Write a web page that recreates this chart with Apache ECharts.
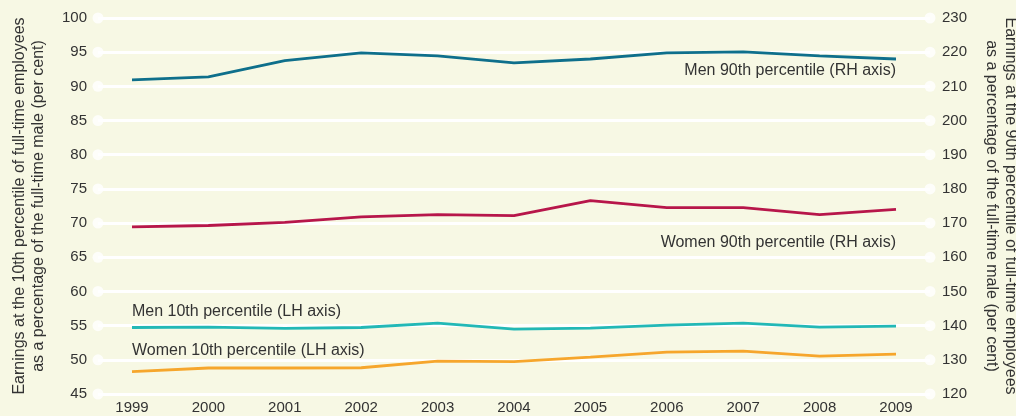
<!DOCTYPE html>
<html>
<head>
<meta charset="utf-8">
<script src="https://cdn.jsdelivr.net/npm/echarts@6/dist/echarts.min.js"></script>
<style>
  html, body { margin: 0; padding: 0; background: #f7f8e4; }
  #chart { width: 1016px; height: 416px; }
</style>
</head>
<body>
<div id="chart"></div>
<script>
// Years on the horizontal axis
const years = [1999, 2000, 2001, 2002, 2003, 2004, 2005, 2006, 2007, 2008, 2009];

// Earnings at the 90th percentile, % of full-time male (right-hand axis)
const men90 = [211.9, 212.8, 217.5, 219.8, 218.9, 216.9, 218.0, 219.8, 220.1, 218.9, 218.0];
const women90 = [168.9, 169.3, 170.2, 171.8, 172.5, 172.2, 176.6, 174.5, 174.5, 172.5, 174.0];

// Earnings at the 10th percentile, % of full-time male (left-hand axis)
const men10 = [54.73, 54.78, 54.59, 54.73, 55.36, 54.49, 54.63, 55.07, 55.36, 54.78, 54.92];
const women10 = [48.26, 48.8, 48.8, 48.84, 49.82, 49.75, 50.4, 51.13, 51.28, 50.55, 50.84];

// Tick values on the two value axes
const leftTicks = [45, 50, 55, 60, 65, 70, 75, 80, 85, 90, 95, 100];
const rightTicks = [120, 130, 140, 150, 160, 170, 180, 190, 200, 210, 220, 230];

const seriesNames = [
  'Men 90th percentile (RH axis)',
  'Women 90th percentile (RH axis)',
  'Men 10th percentile (LH axis)',
  'Women 10th percentile (LH axis)'
];

const FONT = '"Liberation Sans", Arial, Helvetica, sans-serif';
const TEXT = '#333333';
const xMin = 1998.555, xMax = 2009.445;

const pairs = vals => years.map((y, i) => [y, vals[i]]);

// Series name written beside one point of the line
function nameTag(vals, idx, text, opts) {
  return {
    silent: true,
    symbol: 'circle', symbolSize: 0,
    itemStyle: { color: 'rgba(0,0,0,0)' },
    label: Object.assign({ show: true, formatter: text, color: TEXT,
      fontSize: 16, fontFamily: FONT }, opts),
    data: [{ coord: [years[idx], vals[idx]] }]
  };
}

function lineSeries(name, vals, axis, color, tag) {
  return {
    name: name, type: 'line', yAxisIndex: axis, showSymbol: false, z: 3,
    lineStyle: { color: color, width: 2.8 }, itemStyle: { color: color },
    data: pairs(vals), markPoint: tag
  };
}

const chart = echarts.init(document.getElementById('chart'), null, { renderer: 'canvas' });

chart.setOption({
  backgroundColor: '#f7f8e4',
  animation: false,
  grid: { left: 98, right: 86, top: 18, bottom: 22, containLabel: false, outerBoundsMode: 'none' },
  xAxis: {
    type: 'value', min: xMin, max: xMax,
    axisLine: { show: false }, axisTick: { show: false }, splitLine: { show: false },
    axisLabel: {
      customValues: years, formatter: v => String(Math.round(v)),
      color: TEXT, fontSize: 15, fontFamily: FONT, margin: 6
    }
  },
  yAxis: [
    {
      type: 'value', min: 45, max: 100, interval: 5, position: 'left',
      name: 'Earnings at the 10th percentile of full-time employees\nas a percentage of the full-time male (per cent)',
      nameLocation: 'middle', nameGap: 50, nameRotate: 90,
      nameTextStyle: { color: TEXT, fontSize: 16, fontFamily: FONT, lineHeight: 19 },
      axisLine: { show: false }, axisTick: { show: false },
      axisLabel: { color: TEXT, fontSize: 15, fontFamily: FONT, margin: 11 },
      splitLine: { show: true, lineStyle: { color: '#ffffff', width: 3 } }
    },
    {
      type: 'value', min: 120, max: 230, interval: 10, position: 'right',
      name: 'Earnings at the 90th percentile of full-time employees\nas a percentage of the full-time male (per cent)',
      nameLocation: 'middle', nameGap: 52, nameRotate: -90,
      nameTextStyle: { color: TEXT, fontSize: 16, fontFamily: FONT, lineHeight: 19 },
      axisLine: { show: false }, axisTick: { show: false },
      axisLabel: { color: TEXT, fontSize: 15, fontFamily: FONT, margin: 12 },
      splitLine: { show: false }
    }
  ],
  series: [
    {
      // round caps at both ends of each gridline
      type: 'scatter', yAxisIndex: 0, silent: true, clip: false, z: 1,
      symbol: 'circle', symbolSize: 11,
      itemStyle: { color: '#ffffff' },
      data: leftTicks.flatMap(t => [[xMin, t], [xMax, t]])
    },
    lineSeries(seriesNames[0], men90, 1, '#0e6f8b',
      nameTag(men90, 10, seriesNames[0], { position: 'bottom', align: 'right', distance: 4 })),
    lineSeries(seriesNames[1], women90, 1, '#b7164a',
      nameTag(women90, 10, seriesNames[1], { position: 'bottom', align: 'right', distance: 25 })),
    lineSeries(seriesNames[2], men10, 0, '#22b8b6',
      nameTag(men10, 0, seriesNames[2], { position: 'top', align: 'left', distance: 8 })),
    lineSeries(seriesNames[3], women10, 0, '#f6a62c',
      nameTag(women10, 0, seriesNames[3], { position: 'top', align: 'left', distance: 13 }))
  ]
});
</script>
</body>
</html>
